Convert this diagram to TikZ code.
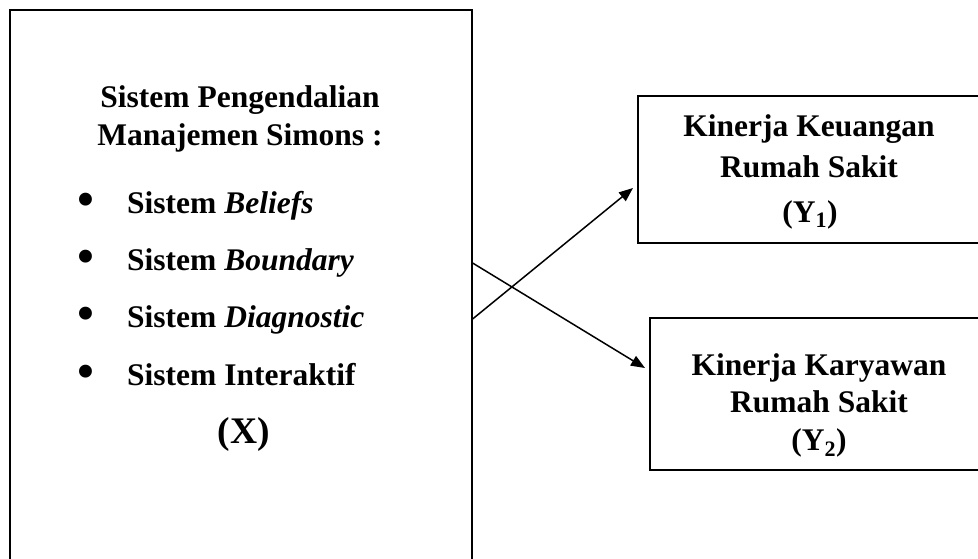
\documentclass[tikz,border=0pt]{standalone}
\usepackage{fontspec}
\setmainfont{Liberation Serif}
\usetikzlibrary{arrows.meta,positioning,calc}

\begin{document}
\begin{tikzpicture}[
    x=1pt,y=-1pt,
    >={Triangle[length=14pt,width=11pt]},
    frame/.style={rectangle,draw=black,line width=1.6pt,inner sep=0pt},
    txt/.style={inner sep=0pt,anchor=base,font=\fontsize{31.5}{38}\selectfont\bfseries},
    itm/.style={txt,anchor=base west},
    dot/.style={inner sep=0pt,anchor=base,font=\fontsize{54}{56}\selectfont},
    fl/.style={->,line width=1.5pt,black},
]
\useasboundingbox (0,0) rectangle (978,558);
\clip (0,0) rectangle (978,558);

% boxes (right edges and bottom run off the page)
\node[frame,anchor=north west,minimum width=462pt,minimum height=600pt] (spm) at (9,9) {};
\node[frame,anchor=north west,minimum width=344pt,minimum height=147pt] (keuangan) at (637,95) {};
\node[frame,anchor=north west,minimum width=340pt,minimum height=152pt] (karyawan) at (649,317) {};

% variable X
\node[txt] (judul1) at (240,107) {Sistem Pengendalian};
\node[txt] (judul2) at (240,145) {Manajemen Simons :};
\node[dot] (b1) at (85.5,217) {•};
\node[itm] (beliefs) at (127,213) {Sistem \textit{Beliefs}};
\node[dot] (b2) at (85.5,274) {•};
\node[itm] (boundary) at (127,270) {Sistem \textit{Boundary}};
\node[dot] (b3) at (85.5,331) {•};
\node[itm] (diagnostic) at (127,327) {Sistem \textit{Diagnostic}};
\node[dot] (b4) at (85.5,389) {•};
\node[itm] (interaktif) at (127,385) {Sistem Interaktif};
\node[txt,font=\fontsize{37.5}{40}\selectfont\bfseries] (varx) at (244,443) {(X)};

% variables Y
\node[txt] (keu1) at (809,136) {Kinerja Keuangan};
\node[txt] (keu2) at (809,177) {Rumah Sakit};
\node[txt] (keu3) at (810,222) {(Y\textsubscript{1})};
\node[txt] (kar1) at (819,375) {Kinerja Karyawan};
\node[txt] (kar2) at (819,412) {Rumah Sakit};
\node[txt] (kar3) at (819,450) {(Y\textsubscript{2})};

% crossing arrows
\coordinate (boundaryout) at (spm.east |- 0,263);
\coordinate (diagout) at (spm.east |- 0,319);
\coordinate (keuanganin) at ($(keuangan.west |- 0,188)+(-4,0)$);
\coordinate (karyawanin) at ($(karyawan.west |- 0,368)+(-4,0)$);
\draw[fl] (boundaryout) -- (karyawanin);
\draw[fl] (diagout) -- (keuanganin);

\end{tikzpicture}
\end{document}
